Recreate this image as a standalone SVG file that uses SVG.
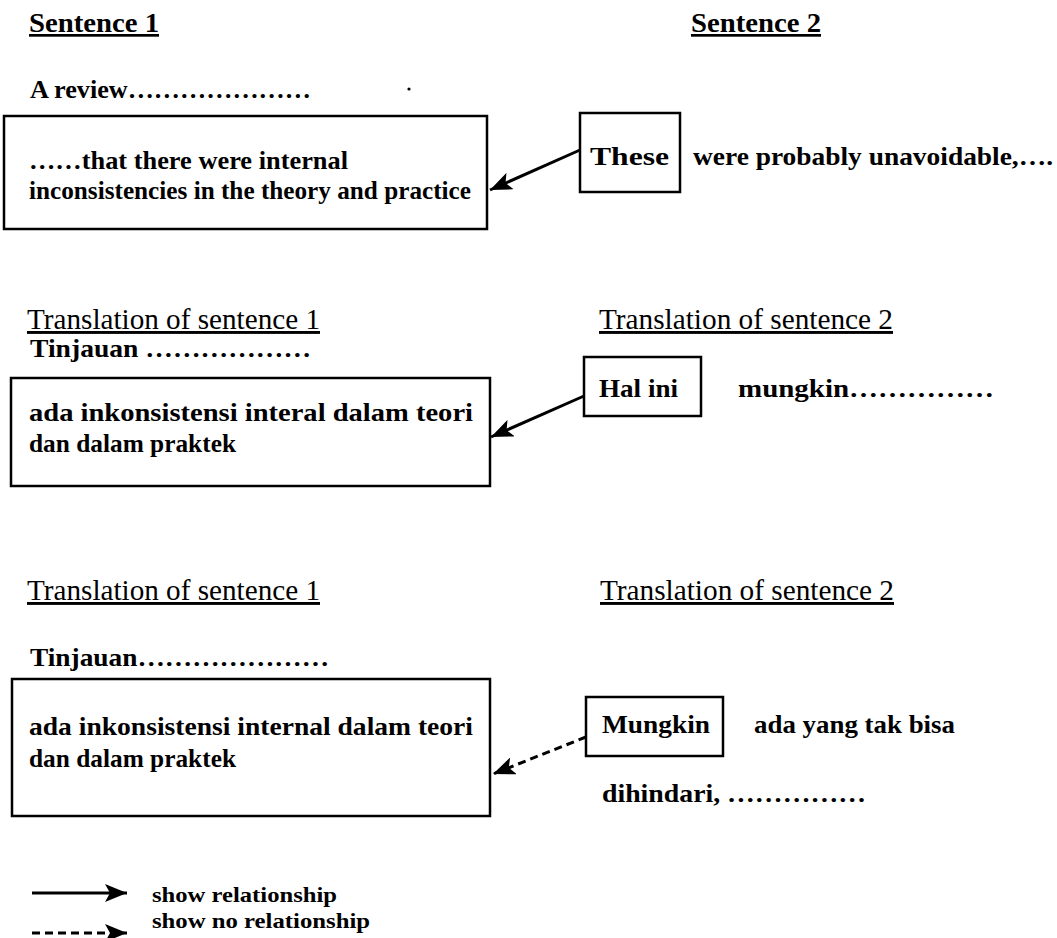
<svg xmlns="http://www.w3.org/2000/svg" width="1057" height="938" viewBox="0 0 1057 938">
<style>
text{font-family:"Liberation Serif","Times New Roman",serif;fill:#000;}
.b{font-weight:bold;font-size:26px;}
.h1{font-weight:bold;font-size:27px;text-decoration:underline;}
.h2{font-weight:normal;font-size:29px;text-decoration:underline;}
.lg{font-weight:bold;font-size:22px;}
.box{fill:none;stroke:#000;stroke-width:2.5;}
.con{fill:none;stroke:#000;stroke-width:3;}
.dash{stroke-dasharray:8,5;}
</style>
<defs>
<marker id="ah" markerUnits="userSpaceOnUse" markerWidth="24" markerHeight="18" refX="22" refY="9" orient="auto">
<path d="M0,0 L22,9 L0,18 L5,9 Z" fill="#000"/>
</marker>
</defs>
<g id="headers">
<text class="h1" x="29" y="32" textLength="130" lengthAdjust="spacingAndGlyphs">Sentence 1</text>
<text class="h1" x="691" y="32" textLength="130" lengthAdjust="spacingAndGlyphs">Sentence 2</text>
<text class="h2" x="27" y="329" textLength="293" lengthAdjust="spacingAndGlyphs">Translation of sentence 1</text>
<text class="h2" x="599" y="329" textLength="294" lengthAdjust="spacingAndGlyphs">Translation of sentence 2</text>
<text class="h2" x="27" y="600" textLength="293" lengthAdjust="spacingAndGlyphs">Translation of sentence 1</text>
<text class="h2" x="600" y="600" textLength="294" lengthAdjust="spacingAndGlyphs">Translation of sentence 2</text>
</g>
<g id="s1-intro">
<text class="b" x="30" y="98" textLength="281" lengthAdjust="spacingAndGlyphs">A review…………………</text>
<circle cx="409" cy="89" r="1.6" fill="#000"/>
</g>
<g id="s1-box">
<rect class="box" x="4" y="116" width="483" height="113"/>
<text class="b" x="29" y="169" textLength="319" lengthAdjust="spacingAndGlyphs">……that there were internal</text>
<text class="b" x="29" y="199" textLength="442" lengthAdjust="spacingAndGlyphs">inconsistencies in the theory and practice</text>
</g>
<g id="s2-these">
<rect class="box" x="580" y="113" width="100" height="79"/>
<text class="b" x="590" y="165" textLength="79" lengthAdjust="spacingAndGlyphs">These</text>
</g>
<g id="s2-rest">
<text class="b" x="693" y="165" textLength="360" lengthAdjust="spacingAndGlyphs">were probably unavoidable,….</text>
</g>
<g id="t1-intro">
<text class="b" x="30" y="357" textLength="281" lengthAdjust="spacingAndGlyphs">Tinjauan ………………</text>
</g>
<g id="t1-box">
<rect class="box" x="11" y="378" width="479" height="108"/>
<text class="b" x="29" y="421" textLength="444" lengthAdjust="spacingAndGlyphs">ada inkonsistensi interal dalam teori</text>
<text class="b" x="29" y="452" textLength="207" lengthAdjust="spacingAndGlyphs">dan dalam praktek</text>
</g>
<g id="t2-halini">
<rect class="box" x="584" y="357" width="117" height="59"/>
<text class="b" x="599" y="397" textLength="79" lengthAdjust="spacingAndGlyphs">Hal ini</text>
</g>
<g id="t2-rest">
<text class="b" x="738" y="397" textLength="256" lengthAdjust="spacingAndGlyphs">mungkin……………</text>
</g>
<g id="t3-intro">
<text class="b" x="30" y="666" textLength="299" lengthAdjust="spacingAndGlyphs">Tinjauan…………………</text>
</g>
<g id="t3-box">
<rect class="box" x="12" y="679" width="478" height="137"/>
<text class="b" x="29" y="735" textLength="444" lengthAdjust="spacingAndGlyphs">ada inkonsistensi internal dalam teori</text>
<text class="b" x="29" y="767" textLength="207" lengthAdjust="spacingAndGlyphs">dan dalam praktek</text>
</g>
<g id="t4-mungkin">
<rect class="box" x="586" y="697" width="137" height="59"/>
<text class="b" x="602" y="733" textLength="108" lengthAdjust="spacingAndGlyphs">Mungkin</text>
</g>
<g id="t4-rest">
<text class="b" x="754" y="733" textLength="201" lengthAdjust="spacingAndGlyphs">ada yang tak bisa</text>
<text class="b" x="602" y="802" textLength="264" lengthAdjust="spacingAndGlyphs">dihindari, ……………</text>
</g>
<g id="connectors">
<line class="con" x1="580" y1="150" x2="490" y2="190" marker-end="url(#ah)"/>
<line class="con" x1="584" y1="396" x2="491" y2="437" marker-end="url(#ah)"/>
<line class="con dash" x1="586" y1="737" x2="493" y2="774" marker-end="url(#ah)"/>
</g>
<g id="legend">
<line class="con" x1="32" y1="893" x2="127" y2="893" marker-end="url(#ah)"/>
<line class="con dash" x1="32" y1="933" x2="127" y2="933" marker-end="url(#ah)"/>
<text class="lg" x="152" y="902" textLength="185" lengthAdjust="spacingAndGlyphs">show relationship</text>
<text class="lg" x="152" y="928" textLength="218" lengthAdjust="spacingAndGlyphs">show no relationship</text>
</g>
</svg>
